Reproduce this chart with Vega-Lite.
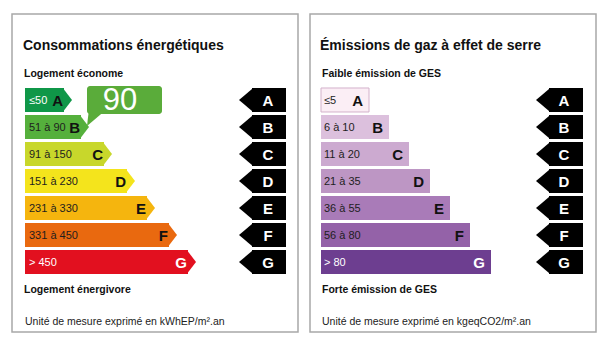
{
  "$schema": "https://vega.github.io/schema/vega-lite/v6.json",
  "padding": {"left": 11, "top": 13, "right": 0, "bottom": 0},
  "background": "white",
  "spacing": 10,
  "resolve": {"scale": {"color": "independent", "x": "independent", "y": "independent"}},
  "config": {
    "view": {"stroke": "#a8a8a8", "strokeWidth": 1.5},
    "font": "Liberation Sans",
    "text": {"font": "Liberation Sans"}
  },
  "datasets": {
    "energy": [
      {"cls": "A", "range": "≤50", "rank": 1, "len": 39},
      {"cls": "B", "range": "51 à 90", "rank": 2, "len": 56},
      {"cls": "C", "range": "91 à 150", "rank": 3, "len": 79},
      {"cls": "D", "range": "151 à 230", "rank": 4, "len": 102},
      {"cls": "E", "range": "231 à 330", "rank": 5, "len": 122},
      {"cls": "F", "range": "331 à 450", "rank": 6, "len": 144},
      {"cls": "G", "range": "> 450", "rank": 7, "len": 163}
    ],
    "ges": [
      {"cls": "A", "range": "≤5", "rank": 1, "len": 48},
      {"cls": "B", "range": "6 à 10", "rank": 2, "len": 68},
      {"cls": "C", "range": "11 à 20", "rank": 3, "len": 88},
      {"cls": "D", "range": "21 à 35", "rank": 4, "len": 109},
      {"cls": "E", "range": "36 à 55", "rank": 5, "len": 129},
      {"cls": "F", "range": "56 à 80", "rank": 6, "len": 149},
      {"cls": "G", "range": "> 80", "rank": 7, "len": 170}
    ],
    "callout": [{"value": 90, "cls": "B"}]
  },
  "hconcat": [
    {
      "width": 286,
      "height": 318,
      "layer": [
        {
          "data": {"name": "energy"},
          "mark": {"type": "bar", "orient": "horizontal", "height": 24},
          "encoding": {
            "x": {"field": "len", "type": "quantitative", "scale": {"domain": [-13, 273], "nice": false, "zero": false, "padding": 0}, "axis": null},
            "y": {"field": "rank", "type": "quantitative", "scale": {"domain": [-2.185, 9.593], "reverse": true, "nice": false, "zero": false, "padding": 0}, "axis": null},
            "color": {"field": "cls", "type": "nominal", "legend": null,
              "scale": {"domain": ["A","B","C","D","E","F","G"], "range": ["#0f9748","#55b03c","#c8d72b","#f4e41c","#f5b50e","#e9690f","#e2101f"]}}
          }
        },
        {
          "data": {"name": "energy"},
          "mark": {"type": "point", "shape": "M-0.1,-1L0.667,0L-0.1,1Z", "size": 576, "filled": true, "opacity": 1, "strokeWidth": 0},
          "encoding": {
            "x": {"field": "len", "type": "quantitative"},
            "y": {"field": "rank", "type": "quantitative"},
            "color": {"field": "cls", "type": "nominal", "legend": null}
          }
        },
        {
          "data": {"name": "energy"},
          "mark": {"type": "text", "align": "left", "baseline": "middle", "dx": 4, "dy": 1, "fontSize": 11},
          "encoding": {
            "x": {"datum": 0, "type": "quantitative"},
            "y": {"field": "rank", "type": "quantitative"},
            "text": {"field": "range"},
            "color": {"condition": {"test": "datum.cls === 'A' || datum.cls === 'G'", "value": "white"}, "value": "#1e1e1e"}
          }
        },
        {
          "data": {"name": "energy"},
          "mark": {"type": "text", "align": "right", "baseline": "middle", "dx": -1, "dy": 1, "fontSize": 15, "fontWeight": "bold"},
          "encoding": {
            "x": {"field": "len", "type": "quantitative"},
            "y": {"field": "rank", "type": "quantitative"},
            "text": {"field": "cls"},
            "color": {"condition": {"test": "datum.cls === 'G'", "value": "white"}, "value": "#111111"}
          }
        },
        {
          "data": {"name": "energy"},
          "mark": {"type": "bar", "orient": "horizontal", "height": 24, "color": "black"},
          "encoding": {
            "x": {"datum": 227, "type": "quantitative"},
            "x2": {"datum": 261},
            "y": {"field": "rank", "type": "quantitative"}
          }
        },
        {
          "data": {"name": "energy"},
          "mark": {"type": "point", "shape": "M0.1,-1L-1.083,0L0.1,1Z", "size": 576, "filled": true, "opacity": 1, "strokeWidth": 0, "color": "black"},
          "encoding": {
            "x": {"datum": 227, "type": "quantitative"},
            "y": {"field": "rank", "type": "quantitative"}
          }
        },
        {
          "data": {"name": "energy"},
          "mark": {"type": "text", "align": "center", "baseline": "middle", "dy": 1, "fontSize": 15, "fontWeight": "bold", "color": "white"},
          "encoding": {
            "x": {"datum": 243, "type": "quantitative"},
            "y": {"field": "rank", "type": "quantitative"},
            "text": {"field": "cls"}
          }
        },
        {
          "data": {"name": "callout"},
          "mark": {"type": "point", "shape": "M-0.8,-0.3L1,-0.3L-1,1.4Z", "size": 400, "filled": true, "opacity": 1, "strokeWidth": 0, "color": "#5aac3a"},
          "encoding": {
            "x": {"datum": 72, "type": "quantitative"},
            "y": {"datum": 1.444, "type": "quantitative"}
          }
        },
        {
          "data": {"name": "callout"},
          "mark": {"type": "bar", "orient": "horizontal", "height": 28, "cornerRadius": 3, "color": "#5aac3a"},
          "encoding": {
            "x": {"datum": 62, "type": "quantitative"},
            "x2": {"datum": 137},
            "y": {"datum": 1, "type": "quantitative"}
          }
        },
        {
          "data": {"name": "callout"},
          "mark": {"type": "text", "align": "center", "baseline": "middle", "dy": 1, "fontSize": 31, "color": "white"},
          "encoding": {
            "x": {"datum": 95, "type": "quantitative"},
            "y": {"datum": 1, "type": "quantitative"},
            "text": {"field": "value"}
          }
        },
        {
          "data": {"values": [{"rank": -1, "label": "Consommations énergétiques"}]},
          "mark": {"type": "text", "align": "left", "baseline": "middle", "fontSize": 14, "fontWeight": "bold", "color": "#111111"},
          "encoding": {
            "x": {"datum": -2, "type": "quantitative"},
            "y": {"field": "rank", "type": "quantitative"},
            "text": {"field": "label"}
          }
        },
        {
          "data": {"values": [{"rank": 0, "label": "Logement économe"}, {"rank": 8, "label": "Logement énergivore"}]},
          "mark": {"type": "text", "align": "left", "baseline": "middle", "dy": 1, "fontSize": 10.5, "fontWeight": "bold", "color": "#111111"},
          "encoding": {
            "x": {"datum": -1, "type": "quantitative"},
            "y": {"field": "rank", "type": "quantitative"},
            "text": {"field": "label"}
          }
        },
        {
          "data": {"values": [{"rank": 9, "label": "Unité de mesure exprimé en kWhEP/m².an"}]},
          "mark": {"type": "text", "align": "left", "baseline": "middle", "dy": 6, "fontSize": 10.5, "color": "#222222"},
          "encoding": {
            "x": {"datum": 0, "type": "quantitative"},
            "y": {"field": "rank", "type": "quantitative"},
            "text": {"field": "label"}
          }
        }
      ]
    },
    {
      "width": 286,
      "height": 318,
      "layer": [
        {
          "data": {"name": "ges"},
          "mark": {"type": "bar", "orient": "horizontal", "height": 24},
          "encoding": {
            "x": {"field": "len", "type": "quantitative", "scale": {"domain": [-11, 275], "nice": false, "zero": false, "padding": 0}, "axis": null},
            "y": {"field": "rank", "type": "quantitative", "scale": {"domain": [-2.185, 9.593], "reverse": true, "nice": false, "zero": false, "padding": 0}, "axis": null},
            "color": {"field": "cls", "type": "nominal", "legend": null,
              "scale": {"domain": ["A","B","C","D","E","F","G"], "range": ["#fbeef5","#dcc0dd","#ccaad0","#bd96c4","#a97bb8","#9462a8","#6d3e90"]}},
            "stroke": {"condition": {"test": "datum.cls === 'A'", "value": "#d3b2cb"}, "value": null}
          }
        },
        {
          "data": {"name": "ges"},
          "mark": {"type": "text", "align": "left", "baseline": "middle", "dx": 3, "dy": 1, "fontSize": 11},
          "encoding": {
            "x": {"datum": 0, "type": "quantitative"},
            "y": {"field": "rank", "type": "quantitative"},
            "text": {"field": "range"},
            "color": {"condition": {"test": "datum.cls === 'G'", "value": "white"}, "value": "#1e1e1e"}
          }
        },
        {
          "data": {"name": "ges"},
          "mark": {"type": "text", "align": "right", "baseline": "middle", "dx": -6, "dy": 1, "fontSize": 15, "fontWeight": "bold"},
          "encoding": {
            "x": {"field": "len", "type": "quantitative"},
            "y": {"field": "rank", "type": "quantitative"},
            "text": {"field": "cls"},
            "color": {"condition": {"test": "datum.cls === 'G'", "value": "white"}, "value": "#111111"}
          }
        },
        {
          "data": {"name": "ges"},
          "mark": {"type": "bar", "orient": "horizontal", "height": 24, "color": "black"},
          "encoding": {
            "x": {"datum": 228, "type": "quantitative"},
            "x2": {"datum": 262},
            "y": {"field": "rank", "type": "quantitative"}
          }
        },
        {
          "data": {"name": "ges"},
          "mark": {"type": "point", "shape": "M0.1,-1L-1.083,0L0.1,1Z", "size": 576, "filled": true, "opacity": 1, "strokeWidth": 0, "color": "black"},
          "encoding": {
            "x": {"datum": 228, "type": "quantitative"},
            "y": {"field": "rank", "type": "quantitative"}
          }
        },
        {
          "data": {"name": "ges"},
          "mark": {"type": "text", "align": "center", "baseline": "middle", "dy": 1, "fontSize": 15, "fontWeight": "bold", "color": "white"},
          "encoding": {
            "x": {"datum": 243, "type": "quantitative"},
            "y": {"field": "rank", "type": "quantitative"},
            "text": {"field": "cls"}
          }
        },
        {
          "data": {"values": [{"rank": -1, "label": "Émissions de gaz à effet de serre"}]},
          "mark": {"type": "text", "align": "left", "baseline": "middle", "fontSize": 14, "fontWeight": "bold", "color": "#111111"},
          "encoding": {
            "x": {"datum": -1, "type": "quantitative"},
            "y": {"field": "rank", "type": "quantitative"},
            "text": {"field": "label"}
          }
        },
        {
          "data": {"values": [{"rank": 0, "label": "Faible émission de GES"}, {"rank": 8, "label": "Forte émission de GES"}]},
          "mark": {"type": "text", "align": "left", "baseline": "middle", "dy": 1, "fontSize": 10.5, "fontWeight": "bold", "color": "#111111"},
          "encoding": {
            "x": {"datum": 1, "type": "quantitative"},
            "y": {"field": "rank", "type": "quantitative"},
            "text": {"field": "label"}
          }
        },
        {
          "data": {"values": [{"rank": 9, "label": "Unité de mesure exprimé en kgeqCO2/m².an"}]},
          "mark": {"type": "text", "align": "left", "baseline": "middle", "dy": 6, "fontSize": 10.5, "color": "#222222"},
          "encoding": {
            "x": {"datum": 1, "type": "quantitative"},
            "y": {"field": "rank", "type": "quantitative"},
            "text": {"field": "label"}
          }
        }
      ]
    }
  ]
}
